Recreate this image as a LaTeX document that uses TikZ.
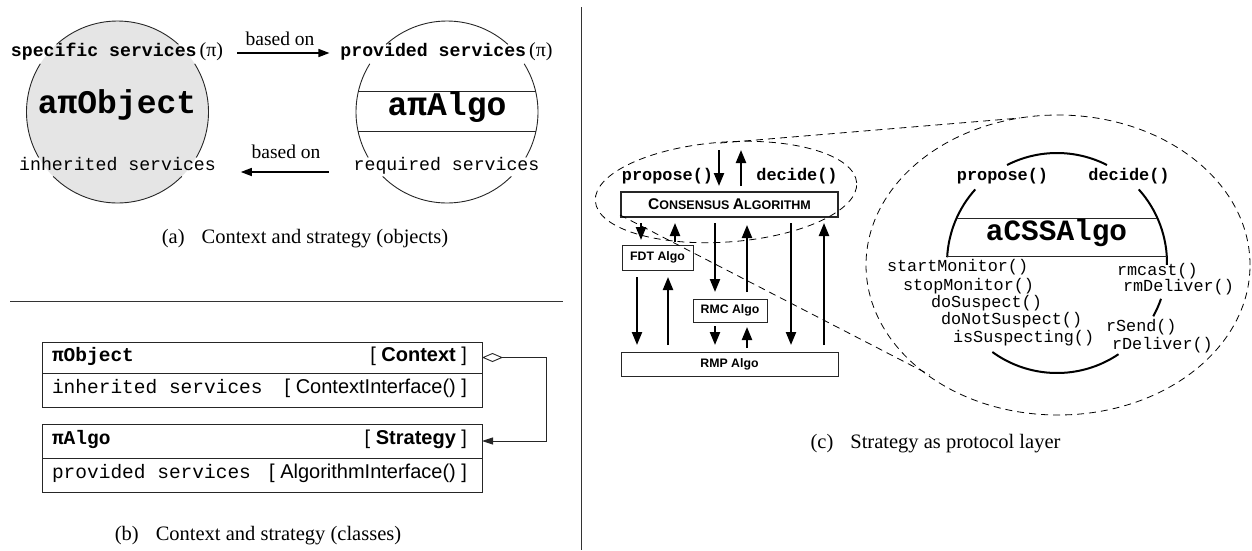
\documentclass[tikz,border=0pt]{standalone}
\usepackage{fontspec}
\setmainfont{Liberation Serif}
\setsansfont{Liberation Sans}
\setmonofont{Liberation Mono}
\usetikzlibrary{arrows.meta}
\newcommand\fsz[1]{\fontsize{#1}{#1}\selectfont}

\begin{document}
\begin{tikzpicture}[x=1pt,y=-1pt,
  lbl/.style={inner sep=0pt, outer sep=0pt, text height=0.7em, text depth=0pt},
  outline/.style={line width=0.9pt, black!85},
  sarr/.style={line width=1.5pt, -{Triangle[length=11pt,width=8pt]}},
  barr/.style={line width=2.2pt, -{Triangle[length=13pt,width=10pt]}},
  classbox/.style={draw=black!85, line width=0.9pt, inner sep=0pt, outer sep=0pt, minimum width=440pt},
  pbox/.style={draw=black!85, line width=0.9pt, inner sep=0pt, outer sep=0pt, font=\sffamily\bfseries\fsz{12.3}},
  conn/.style={line width=0.9pt, black!85, {Diamond[open,length=21pt,width=9pt]}-{Triangle[length=11pt,width=7pt]}},
  dsh/.style={line width=0.8pt, dash pattern=on 7pt off 5pt},
  sep/.style={line width=0.9pt, black!80},
  meth/.style={lbl, anchor=west, font=\ttfamily\fsz{16.8}},
  thickarc/.style={line width=2pt}]
\useasboundingbox (0,0) rectangle (1252,550);

% ---------- separators ----------
\draw[sep] (10,301) -- (563,301);
\draw[sep] (581,7) -- (581,550);

% ---------- (a) objects ----------
\node[circle, fill=gray!20, minimum size=182pt, inner sep=0pt, outer sep=0pt] (objc) at (117.5,112) {};
\node[circle, minimum size=182pt, inner sep=0pt, outer sep=0pt] (algc) at (447,112) {};
\foreach \c in {objc,algc}{
  \draw[outline] (\c.48) arc[start angle=48, end angle=132, radius=91pt];
  \draw[outline] (\c.148) arc[start angle=148, end angle=210, radius=91pt];
  \draw[outline] (\c.225) arc[start angle=225, end angle=315, radius=91pt];
  \draw[outline] (\c.330) arc[start angle=330, end angle=392, radius=91pt];
}
\draw[outline] (358.5,91) -- (535.5,91);
\draw[outline] (358,131) -- (536,131);

\node[lbl, font=\fsz{18.2}] (spec) at (117,53) {{\ttfamily\bfseries specific services}\kern3pt{\fsz{20}(π)}};
\node[lbl, font=\ttfamily\bfseries\fsz{33}] (objn) at (117,110) {aπObject};
\node[lbl, font=\ttfamily\fsz{18.2}] (inh) at (117.5,167) {inherited services};
\node[lbl, font=\fsz{18.2}] (prov) at (446.5,53) {{\ttfamily\bfseries provided services}\kern3pt{\fsz{20}(π)}};
\node[lbl, font=\ttfamily\bfseries\fsz{33}] (algn) at (447,112) {aπAlgo};
\node[lbl, font=\ttfamily\fsz{18.2}] (req) at (446.5,167) {required services};
\node[lbl, font=\fsz{19.5}] (bo1) at (280,42) {based on};
\node[lbl, font=\fsz{19.5}] (bo2) at (286,155) {based on};
\draw[sarr] ([xshift=14pt]spec.east) -- ([xshift=-11pt]prov.west);
\draw[sarr] ([shift={(-25,5)}]req.west) -- ([shift={(25,5)}]inh.east);

\node[lbl, font=\fsz{20.5}] (capa) at (305,240) {(a)\kern17pt Context and strategy (objects)};

% ---------- (b) classes ----------
\node[classbox, minimum height=31pt] (objh) at (262,357.5) {};
\node[classbox, minimum height=34pt] (objb) at (262,390) {};
\node[classbox, minimum height=34pt] (algh) at (262,441) {};
\node[classbox, minimum height=34pt] (algb) at (262,475) {};

\node[lbl, anchor=west, font=\ttfamily\bfseries\fsz{19.5}] (objt) at (52,357.5) {πObject};
\node[lbl, anchor=east, font=\sffamily\fsz{20}] (ctxt) at (467,357.5) {[ \textbf{Context} ]};
\node[lbl, anchor=west, font=\ttfamily\fsz{19.5}] (inht) at (52,390) {inherited services};
\node[lbl, anchor=east, font=\sffamily\fsz{20}] (ctxi) at (467,390) {[ ContextInterface() ]};
\node[lbl, anchor=west, font=\ttfamily\bfseries\fsz{19.5}] (algt) at (52,441) {πAlgo};
\node[lbl, anchor=east, font=\sffamily\fsz{20}] (strt) at (467,441) {[ \textbf{Strategy} ]};
\node[lbl, anchor=west, font=\ttfamily\fsz{19.5}] (provt) at (52,475) {provided services};
\node[lbl, anchor=east, font=\sffamily\fsz{20}] (algi) at (467,475) {[ AlgorithmInterface() ]};

\draw[conn] (objh.east) -- ++(64,0) |- (algh.east);

\node[lbl, font=\fsz{20.5}] (capb) at (258,537) {(b)\kern17pt Context and strategy (classes)};

% ---------- (c) protocol layers ----------
\node[pbox, line width=1.8pt, minimum width=217pt, minimum height=25pt] (cons) at (729.5,204.5)
  {\fsz{15.5}C\fsz{12.5}ONSENSUS \fsz{15.5}A\fsz{12.5}LGORITHM};
\node[pbox, minimum width=71pt, minimum height=25pt] (fdt) at (657.5,257.5) {FDT Algo};
\node[pbox, minimum width=74pt, minimum height=23pt] (rmc) at (730,310.5) {RMC Algo};
\node[pbox, minimum width=217pt, minimum height=24pt] (rmp) at (729.5,364) {RMP Algo};

\node[lbl, font=\ttfamily\bfseries\fsz{16.9}] (prop1) at (667.5,177) {propose()};
\node[lbl, font=\ttfamily\bfseries\fsz{16.9}] (dec1) at (797,177) {decide()};

\coordinate (pin) at (719,150);
\coordinate (dout) at (741,150);
\draw[barr, shorten >=6pt] (pin) -- (pin |- cons.north);
\draw[barr, shorten <=6pt] (dout |- cons.north) -- (dout);

\coordinate (c1) at (641,0);
\coordinate (c2) at (675,0);
\coordinate (c3) at (715,0);
\coordinate (c4) at (747,0);
\coordinate (c5) at (791,0);
\coordinate (c6) at (824,0);
\coordinate (c7) at (637,0);
\coordinate (c8) at (668,0);
\draw[barr, shorten <=6pt, shorten >=5pt] (c1 |- cons.south) -- (c1 |- fdt.north);
\draw[barr, shorten <=3pt, shorten >=6pt] (c2 |- fdt.north) -- (c2 |- cons.south);
\draw[barr, shorten <=6pt, shorten >=7pt] (c3 |- cons.south) -- (c3 |- rmc.north);
\draw[barr, shorten <=7pt, shorten >=8pt] (c4 |- rmc.north) -- (c4 |- cons.south);
\draw[barr, shorten <=6pt, shorten >=7pt] (c5 |- cons.south) -- (c5 |- rmp.north);
\draw[barr, shorten <=7pt, shorten >=6pt] (c6 |- rmp.north) -- (c6 |- cons.south);
\draw[barr, shorten <=7pt, shorten >=7pt] (c7 |- fdt.south) -- (c7 |- rmp.north);
\draw[barr, shorten <=7pt, shorten >=7pt] (c8 |- rmp.north) -- (c8 |- fdt.south);
\draw[barr, shorten <=4pt, shorten >=7pt] (c3 |- rmc.south) -- (c3 |- rmp.north);
\draw[barr, shorten <=4pt, shorten >=5pt] (c4 |- rmp.north) -- (c4 |- rmc.south);

% zoom outline
\draw[dsh, rotate around={4:(726,192)}] (726,192) ellipse[x radius=131pt, y radius=50pt];
\draw[dsh] (1058,265) ellipse[x radius=192pt, y radius=150pt];
\coordinate (zt1) at (720,143);
\coordinate (zt2) at (1020,118);
\coordinate (zb1) at (620,215);
\coordinate (zb2) at (930,375);
\draw[dsh] (zt1) -- (zt2);
\draw[dsh] (zb1) -- (zb2);

% consensus object
\node[circle, minimum size=220pt, inner sep=0pt, outer sep=0pt] (cssc) at (1057,263) {};
\draw[thickarc] (cssc.63) arc[start angle=63, end angle=117, radius=110pt];
\draw[thickarc] (cssc.138) arc[start angle=138, end angle=177, radius=110pt];
\draw[thickarc] (cssc.359) arc[start angle=-1, end angle=42, radius=110pt];
\draw[thickarc] (cssc.331) arc[start angle=331, end angle=341, radius=110pt];
\draw[thickarc] (cssc.234) arc[start angle=234, end angle=304, radius=110pt];
\draw[outline] (956.6,218) -- (1157.4,218);
\draw[outline] (947.2,256) -- (1166.8,256);

\node[lbl, font=\ttfamily\bfseries\fsz{16.9}] (prop2) at (1002.5,177) {propose()};
\node[lbl, font=\ttfamily\bfseries\fsz{16.9}] (dec2) at (1129,177) {decide()};
\node[lbl, font=\ttfamily\bfseries\fsz{29.4}] (cssn) at (1056.5,237) {aCSSAlgo};

\node[meth] (m1) at (887,268) {startMonitor()};
\node[meth] (m2) at (903,287) {stopMonitor()};
\node[meth] (m3) at (931,304) {doSuspect()};
\node[meth] (m4) at (941,321) {doNotSuspect()};
\node[meth] (m5) at (953,339) {isSuspecting()};
\node[meth] (m6) at (1117,272) {rmcast()};
\node[meth] (m7) at (1123,288) {rmDeliver()};
\node[meth] (m8) at (1106,328) {rSend()};
\node[meth] (m9) at (1112,346) {rDeliver()};

\node[lbl, font=\fsz{20.5}] (capc) at (935.5,445) {(c)\kern17pt Strategy as protocol layer};
\end{tikzpicture}
\end{document}
